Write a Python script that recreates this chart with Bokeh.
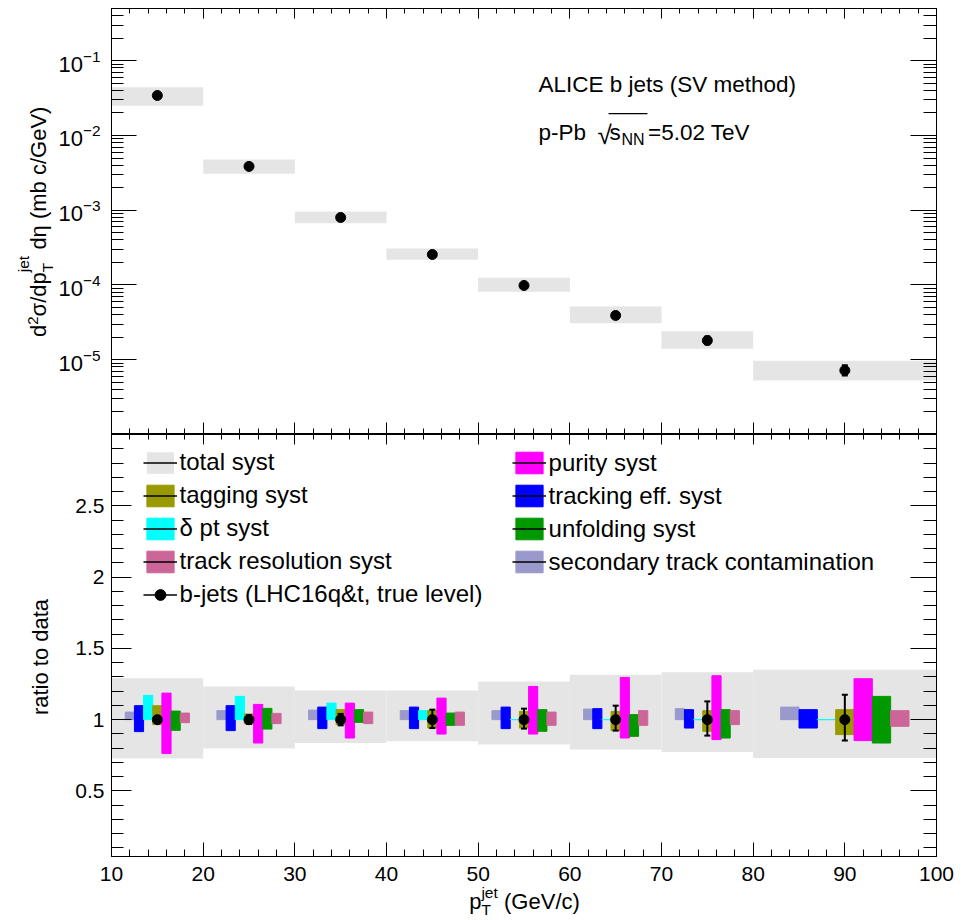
import numpy as np
from bokeh.plotting import figure
from bokeh.models import (ColumnDataSource, Range1d, LinearAxis, FixedTicker, CustomJSTickFormatter,
                          Label, Legend, LegendItem, Whisker, TeeHead, BoxAnnotation, Div)
from bokeh.layouts import column, row
from bokeh.embed import file_html
from bokeh.resources import INLINE

# ---------------- data ----------------
bin_lo = [10, 20, 30, 40, 50, 60, 70, 80]
bin_hi = [20, 30, 40, 50, 60, 70, 80, 100]
xsec = [3.43e-2, 3.86e-3, 8.0e-4, 2.56e-4, 9.86e-5, 3.91e-5, 1.81e-5, 7.2e-6]

ratio = [1.0, 1.0, 1.0, 1.0, 1.0, 1.0, 1.0, 1.0]
stat_up = [0.02, 0.03, 0.04, 0.070, 0.077, 0.098, 0.128, 0.175]
stat_dn = [0.02, 0.03, 0.04, 0.059, 0.063, 0.077, 0.112, 0.147]

total_up = [1.291, 1.233, 1.205, 1.205, 1.268, 1.315, 1.333, 1.350]
total_dn = [0.727, 0.797, 0.836, 0.848, 0.825, 0.790, 0.773, 0.731]
seccont_up = [1.053, 1.063, 1.067, 1.063, 1.063, 1.074, 1.077, 1.088]
seccont_dn = [1.0, 1.0, 1.0, 1.0, 1.0, 1.0, 1.0, 1.0]
tracking_up = [1.098, 1.098, 1.088, 1.088, 1.088, 1.077, 1.070, 1.070]
tracking_dn = [0.916, 0.923, 0.937, 0.937, 0.937, 0.937, 0.941, 0.941]
dpt_up = [1.170, 1.163, 1.116, 1.063, 1.0, 1.0, 1.0, 1.0]
dpt_dn = [1.0, 1.0, 1.0, 1.0, 1.0, 1.0, 1.0, 1.0]
tagging_up = [1.098, 1.040, 1.070, 1.063, 1.058, 1.058, 1.063, 1.070]
tagging_dn = [0.965, 0.970, 0.965, 0.941, 0.941, 0.923, 0.918, 0.895]
purity_up = [1.186, 1.107, 1.116, 1.151, 1.233, 1.296, 1.308, 1.287]
purity_dn = [0.762, 0.836, 0.871, 0.899, 0.899, 0.871, 0.860, 0.853]
unfold_up = [1.060, 1.079, 1.070, 1.046, 1.070, 1.035, 1.070, 1.163]
unfold_dn = [0.925, 0.934, 0.981, 0.960, 0.918, 0.883, 0.871, 0.836]
trkres_up = [1.046, 1.044, 1.053, 1.053, 1.053, 1.063, 1.063, 1.063]
trkres_dn = [0.979, 0.972, 0.972, 0.960, 0.960, 0.960, 0.965, 0.953]

x_major = [10, 20, 30, 40, 50, 60, 70, 80, 90, 100]
ratio_major = [0.5, 1.0, 1.5, 2.0, 2.5]
xsec_major = [1e-5, 1e-4, 1e-3, 1e-2, 1e-1]

FONT = "Liberation Sans"
C_TOTAL = "#e5e5e5"
C_SEC = "#9999cc"
C_TRK = "#0000ff"
C_DPT = "#00ffff"
C_TAG = "#999900"
C_PUR = "#ff00ff"
C_UNF = "#009900"
C_RES = "#cc6699"

LEFT_W = 48          # width of the column holding the rotated y titles
FIG_W = 965 - LEFT_W

lo = np.array(bin_lo, float)
hi = np.array(bin_hi, float)
ctr = (lo + hi) / 2
bw = hi - lo
x_minor = list(np.arange(10, 101, 2))
ratio_minor = list(np.round(np.arange(0.1, 3.01, 0.1), 2))
xsec_minor = [m * 10.0 ** e for e in range(-6, 0) for m in range(2, 10)]


def style_axis(ax, maj_in, min_in, labels=True, size="21px", standoff=8):
    ax.axis_line_color = "black"
    ax.axis_line_width = 1
    ax.major_tick_line_color = "black"
    ax.minor_tick_line_color = "black"
    ax.major_tick_in = maj_in
    ax.major_tick_out = 0
    ax.minor_tick_in = min_in
    ax.minor_tick_out = 0
    if labels:
        ax.major_label_text_font = FONT
        ax.major_label_text_font_size = size
        ax.major_label_text_color = "black"
        ax.major_label_standoff = standoff
    else:
        ax.formatter = CustomJSTickFormatter(code="return ''")
        ax.major_label_text_font_size = "0px"
        ax.major_label_standoff = 0


# ---------------- top panel ----------------
top = figure(width=FIG_W, height=434, y_axis_type="log",
             x_range=Range1d(10, 100), y_range=Range1d(1e-6, 0.5),
             output_backend="svg", toolbar_location=None,
             min_border_left=111 - LEFT_W, min_border_right=29, min_border_top=8, min_border_bottom=0)
top.grid.visible = False
top.outline_line_color = "black"
top.background_fill_color = "white"
top.border_fill_color = None

top.xaxis[0].ticker = FixedTicker(ticks=x_major, minor_ticks=x_minor)
style_axis(top.xaxis[0], 12, 6, labels=False)
top.yaxis[0].ticker = FixedTicker(ticks=xsec_major, minor_ticks=xsec_minor)
style_axis(top.yaxis[0], 25, 12, size="22px", standoff=11)

ax_t = LinearAxis(ticker=FixedTicker(ticks=x_major, minor_ticks=x_minor))
style_axis(ax_t, 10, 5, labels=False)
top.add_layout(ax_t, "above")
ax_r = LinearAxis(ticker=FixedTicker(ticks=xsec_major, minor_ticks=xsec_minor))
style_axis(ax_r, 26, 13, labels=False)
top.add_layout(ax_r, "right")

xs_arr = np.array(xsec)
src_top = ColumnDataSource(dict(
    left=lo, right=hi, x=ctr, y=xs_arr,
    stop=xs_arr * np.array(total_up), sbot=xs_arr * np.array(total_dn),
    eup=xs_arr * (1 + np.array(stat_up)), edn=xs_arr * (1 - np.array(stat_dn))))
top.quad(left="left", right="right", top="stop", bottom="sbot", source=src_top,
         fill_color=C_TOTAL, line_color=None)
top.add_layout(Whisker(source=src_top, base="x", upper="eup", lower="edn", dimension="height",
                       line_color="black", line_width=2, level="annotation",
                       upper_head=TeeHead(size=6, line_color="black", line_width=2),
                       lower_head=TeeHead(size=6, line_color="black", line_width=2)))
top.scatter("x", "y", source=src_top, size=10, marker="circle", color="black")


def lab(fig, x, y, text, size="22px", align="left"):
    fig.add_layout(Label(x=x, y=y, x_units="screen", y_units="screen",
                         text=text, text_font=FONT, text_font_size=size, text_align=align,
                         text_baseline="alphabetic", text_color="black"))


# texts (screen units relative to the frame)
lab(top, 427, 350.5, "ALICE b jets (SV method)", "22.5px")
lab(top, 427, 302.5, "p-Pb", "22.5px")
lab(top, 486, 300, "\u221a", "26px")
lab(top, 498, 302.5, "s", "22.5px")
lab(top, 510, 295.5, "NN", "16px")
lab(top, 536.5, 302.5, "=5.02 TeV", "22.5px")
top.add_layout(BoxAnnotation(left=497, right=536, bottom=320.2, top=321.5,
                             left_units="screen", right_units="screen",
                             top_units="screen", bottom_units="screen",
                             fill_color="black", fill_alpha=1, line_alpha=0))

# ---------------- bottom panel ----------------
bot = figure(width=FIG_W, height=458, x_range=Range1d(10, 100), y_range=Range1d(0.04, 3.0),
             output_backend="svg", toolbar_location=None,
             min_border_left=111 - LEFT_W, min_border_right=29, min_border_top=0, min_border_bottom=36)
bot.grid.visible = False
bot.outline_line_color = "black"
bot.background_fill_color = "white"
bot.border_fill_color = None

bot.xaxis[0].ticker = FixedTicker(ticks=x_major, minor_ticks=x_minor)
style_axis(bot.xaxis[0], 14, 7, size="21px", standoff=10)
bot.yaxis[0].ticker = FixedTicker(ticks=ratio_major, minor_ticks=ratio_minor)
style_axis(bot.yaxis[0], 20, 12, size="21px", standoff=7)
ax_bt = LinearAxis(ticker=FixedTicker(ticks=x_major, minor_ticks=x_minor))
style_axis(ax_bt, 10, 5, labels=False)
bot.add_layout(ax_bt, "above")
ax_br = LinearAxis(ticker=FixedTicker(ticks=ratio_major, minor_ticks=ratio_minor))
style_axis(ax_br, 26, 13, labels=False)
bot.add_layout(ax_br, "right")

r_total = bot.quad(left=lo, right=hi, top=total_up, bottom=total_dn,
                   fill_color=C_TOTAL, line_color=None)


def syst_boxes(k, up, dn, color):
    return bot.quad(left=ctr + (k - 0.5) * 0.1 * bw, right=ctr + (k + 0.5) * 0.1 * bw,
                    top=up, bottom=dn, fill_color=color, line_color=color, line_width=1)


r_sec = syst_boxes(-3, seccont_up, seccont_dn, C_SEC)
r_trk = syst_boxes(-2, tracking_up, tracking_dn, C_TRK)
r_dpt = syst_boxes(-1, dpt_up, dpt_dn, C_DPT)
r_tag = syst_boxes(0, tagging_up, tagging_dn, C_TAG)
r_pur = syst_boxes(1, purity_up, purity_dn, C_PUR)
r_unf = syst_boxes(2, unfold_up, unfold_dn, C_UNF)
r_res = syst_boxes(3, trkres_up, trkres_dn, C_RES)

rat = np.array(ratio)
src_rat = ColumnDataSource(dict(x=ctr, y=rat, eup=rat + np.array(stat_up), edn=rat - np.array(stat_dn)))
bot.add_layout(Whisker(source=src_rat, base="x", upper="eup", lower="edn", dimension="height",
                       line_color="black", line_width=2, level="annotation",
                       upper_head=TeeHead(size=6, line_color="black", line_width=2),
                       lower_head=TeeHead(size=6, line_color="black", line_width=2)))
r_pts = bot.scatter("x", "y", source=src_rat, size=10, marker="circle", color="black")

# a black line used only for the legend swatches (lies outside the visible range)
src_leg = ColumnDataSource(dict(x=[200.0, 201.0], y=[-5.0, -5.0]))
r_line = bot.line("x", "y", source=src_leg, line_color="black", line_width=1.5)

leg_kw = dict(orientation="vertical", glyph_width=34, glyph_height=27, label_standoff=3,
              spacing=5, padding=0, margin=0, border_line_alpha=0, background_fill_alpha=0,
              label_text_font=FONT, label_text_font_size="24px", label_text_color="black",
              label_height=20)
leg1 = Legend(items=[
    LegendItem(label="total syst", renderers=[r_total, r_line]),
    LegendItem(label="tagging syst", renderers=[r_tag, r_line]),
    LegendItem(label="\u03b4 pt syst", renderers=[r_dpt, r_line]),
    LegendItem(label="track resolution syst", renderers=[r_res, r_line]),
    LegendItem(label="b-jets (LHC16q&t, true level)", renderers=[r_line, r_pts]),
], location=(31.6, 248), **leg_kw)
leg2 = Legend(items=[
    LegendItem(label="purity syst", renderers=[r_pur, r_line]),
    LegendItem(label="tracking eff. syst", renderers=[r_trk, r_line]),
    LegendItem(label="unfolding syst", renderers=[r_unf, r_line]),
    LegendItem(label="secondary track contamination", renderers=[r_sec, r_line]),
], location=(400.6, 280.5), **leg_kw)
bot.add_layout(leg1)
bot.add_layout(leg2)

# ---------------- axis titles (HTML text, rotated where needed) ----------------
BASE = ("font-family:'Liberation Sans',Arial,sans-serif;font-size:22px;line-height:22px;"
        "color:black;white-space:nowrap;margin:0;padding:0;")
ROT = "position:absolute;transform-origin:0 0;transform:rotate(-90deg);"


def stack(sup, sub, width, sup_bottom, sub_top, size="15.5px"):
    return ('<span style="display:inline-block;position:relative;width:%.1fpx;height:0px;">'
            '<span style="position:absolute;left:0;bottom:%.1fpx;font-size:%s;line-height:%s;">%s</span>'
            '<span style="position:absolute;left:0;top:%.1fpx;font-size:%s;line-height:%s;">%s</span>'
            '</span>') % (width, sup_bottom, size, size, sup, sub_top, size, size, sub)


ytop_html = ('<div style="position:relative;width:%dpx;height:434px;margin:0;padding:0;overflow:visible;">'
             '<span style="%s%sleft:27.5px;top:337px;">d'
             '<span style="font-size:15px;position:relative;top:-8px;">2</span>'
             '\u03c3/dp%s d\u03b7 (mb c/GeV)</span></div>') % (
    LEFT_W, BASE, ROT, stack("jet", "T", 16.5, 14.6, -6.1))
ybot_html = ('<div style="position:relative;width:%dpx;height:486px;margin:0;padding:0;overflow:visible;">'
             '<span style="%s%sleft:29.5px;top:323px;width:200px;display:block;text-align:center;">'
             'ratio to data</span></div>') % (LEFT_W, BASE, ROT)
x_left = 524.5 - LEFT_W - 200
x_html = ('<div style="position:relative;width:%dpx;height:28px;margin:0;padding:0;overflow:visible;">'
          '<span style="%sposition:absolute;left:%.1fpx;top:-0.8px;width:400px;display:block;text-align:center;">'
          'p%s (GeV/c)</span></div>') % (FIG_W, BASE, x_left, stack("jet", "T", 16.5, 8.3, -7.3))

div_kw = dict(margin=0, styles={"overflow": "visible", "padding": "0"})
div_yt = Div(text=ytop_html, width=LEFT_W, height=434, **div_kw)
div_yb = Div(text=ybot_html, width=LEFT_W, height=486, **div_kw)
div_x = Div(text=x_html, width=FIG_W, height=28, **div_kw)

layout = row(column(div_yt, div_yb, spacing=0), column(top, bot, div_x, spacing=0), spacing=0)
open("out.html", "w").write(file_html(layout, INLINE))
